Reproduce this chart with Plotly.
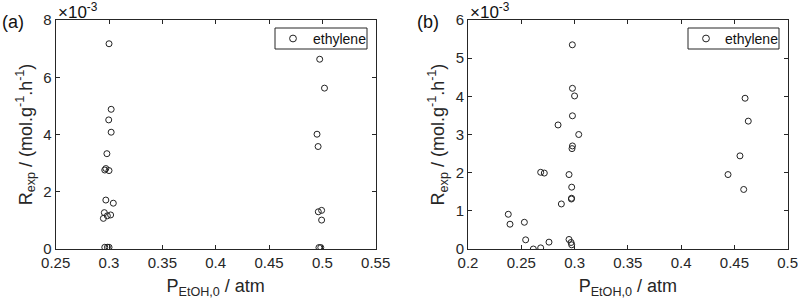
import plotly.graph_objects as go

# Panel (a) data: ethanol partial pressure (atm) and ethylene rate (x1e-3 mol/g/h)
p_a = [0.300, 0.302, 0.2997, 0.302, 0.298, 0.297, 0.300, 0.296, 0.297, 0.304,
       0.2956, 0.2947, 0.2984, 0.3015, 0.296, 0.2985, 0.300,
       0.4975, 0.502, 0.495, 0.496, 0.4962, 0.4993, 0.4993, 0.4968, 0.4985]
r_a = [7.17, 4.88, 4.51, 4.08, 3.33, 2.81, 2.74, 2.76, 1.71, 1.60,
       1.27, 1.07, 1.16, 1.19, 0.06, 0.06, 0.06,
       6.63, 5.62, 4.01, 3.58, 1.30, 1.35, 1.01, 0.05, 0.05]

# Panel (b) data
p_b = [0.2979, 0.298, 0.300, 0.298, 0.2845, 0.3039, 0.298, 0.2976, 0.2682, 0.2716,
       0.2948, 0.2973, 0.297, 0.2972, 0.2876, 0.2378, 0.2394, 0.2529, 0.2541, 0.2613,
       0.2682, 0.276, 0.2948, 0.2967, 0.2973, 0.460, 0.463, 0.444, 0.4552, 0.4587]
r_b = [5.35, 4.21, 4.01, 3.49, 3.25, 3.00, 2.70, 2.63, 2.01, 1.99,
       1.95, 1.62, 1.31, 1.33, 1.18, 0.91, 0.65, 0.70, 0.24, 0.00,
       0.03, 0.18, 0.25, 0.17, 0.11, 3.95, 3.35, 1.95, 2.44, 1.56]

xticks_a = [0.25, 0.3, 0.35, 0.4, 0.45, 0.5, 0.55]
xticks_b = [0.2, 0.25, 0.3, 0.35, 0.4, 0.45, 0.5]
yticks_a = [0, 2, 4, 6, 8]
yticks_b = [0, 1, 2, 3, 4, 5, 6]
series_name = "ethylene"

FONT = "Arial, Liberation Sans, sans-serif"
AX = "#262626"
MK = "#222"

fig = go.Figure()
marker = dict(symbol="circle-open", size=6, color=MK, line=dict(width=1, color=MK))
fig.add_trace(go.Scatter(x=p_a, y=r_a, mode="markers", name=series_name, marker=marker,
                         xaxis="x", yaxis="y", showlegend=False))
fig.add_trace(go.Scatter(x=p_b, y=r_b, mode="markers", name=series_name, marker=marker,
                         xaxis="x2", yaxis="y2", showlegend=False))

W, H = 798, 303
xa_dom = [55.7 / W, 375.7 / W]
xb_dom = [468 / W, 787.7 / W]
y_dom = [(H - 249) / H, (H - 20) / H]

common_x = dict(showline=True, linecolor=AX, linewidth=1, mirror="ticks", ticks="inside",
                ticklen=4, tickcolor=AX, showgrid=False, zeroline=False,
                tickfont=dict(family=FONT, size=15, color=AX), automargin=False,
                ticklabeloverflow="allow",
                title=dict(text="P<sub>EtOH,0</sub> / atm",
                           font=dict(family=FONT, size=18, color=AX), standoff=9))
common_y = dict(showline=True, linecolor=AX, linewidth=1, mirror="ticks", ticks="inside",
                ticklen=4, tickcolor=AX, showgrid=False, zeroline=False,
                tickfont=dict(family=FONT, size=15, color=AX), automargin=False,
                ticklabeloverflow="allow",
                title=dict(text="R<sub>exp</sub> / (mol.g<sup>-1</sup>.h<sup>-1</sup>)",
                           font=dict(family=FONT, size=18, color=AX), standoff=6))

fig.update_layout(
    width=W, height=H, margin=dict(l=0, r=0, t=0, b=0),
    paper_bgcolor="white", plot_bgcolor="white",
    font=dict(family=FONT, color=AX),
    xaxis=dict(domain=xa_dom, range=[0.25, 0.55], tickvals=xticks_a,
               ticktext=[f"{v:g}" for v in xticks_a], anchor="y", **common_x),
    yaxis=dict(domain=y_dom, range=[0, 8], tickvals=yticks_a, anchor="x", **common_y),
    xaxis2=dict(domain=xb_dom, range=[0.2, 0.5], tickvals=xticks_b,
                ticktext=[f"{v:g}" for v in xticks_b], anchor="y2", **common_x),
    yaxis2=dict(domain=y_dom, range=[0, 6], tickvals=yticks_b, anchor="x2", **common_y),
    showlegend=False,
)

def px_x(v):
    return v / W

def px_y(v):
    return (H - v) / H

# Legend boxes (drawn manually to match the compact MATLAB legend)
legend_boxes = [(275, 367, 293, 311), (688, 779, 706, 723)]
for x0, x1, mx, tx in legend_boxes:
    fig.add_shape(type="rect", xref="paper", yref="paper",
                  x0=px_x(x0), x1=px_x(x1), y0=px_y(49), y1=px_y(28),
                  line=dict(color=AX, width=1), fillcolor="white", layer="above")
    fig.add_shape(type="circle", xref="paper", yref="paper",
                  x0=px_x(mx - 3.4), x1=px_x(mx + 3.4), y0=px_y(38.5 + 3.4), y1=px_y(38.5 - 3.4),
                  line=dict(color=MK, width=1), layer="above")
    fig.add_annotation(text=series_name, x=px_x(tx), y=px_y(38.5), xref="paper", yref="paper",
                       xanchor="left", yanchor="middle", showarrow=False,
                       font=dict(family=FONT, size=14, color="#111"))

annos = [
    dict(text="(a)", x=0, y=22.5, size=18),
    dict(text="(b)", x=415, y=22.5, size=18),
    dict(text="×10<sup>-3</sup>", x=56, y=11, size=17),
    dict(text="×10<sup>-3</sup>", x=468, y=11, size=17),
]
for a in annos:
    fig.add_annotation(text=a["text"], x=px_x(a["x"]), y=px_y(a["y"]), xref="paper", yref="paper",
                       xanchor="left", yanchor="middle", showarrow=False,
                       font=dict(family=FONT, size=a["size"], color="#111"))

fig.write_html("out.html")
